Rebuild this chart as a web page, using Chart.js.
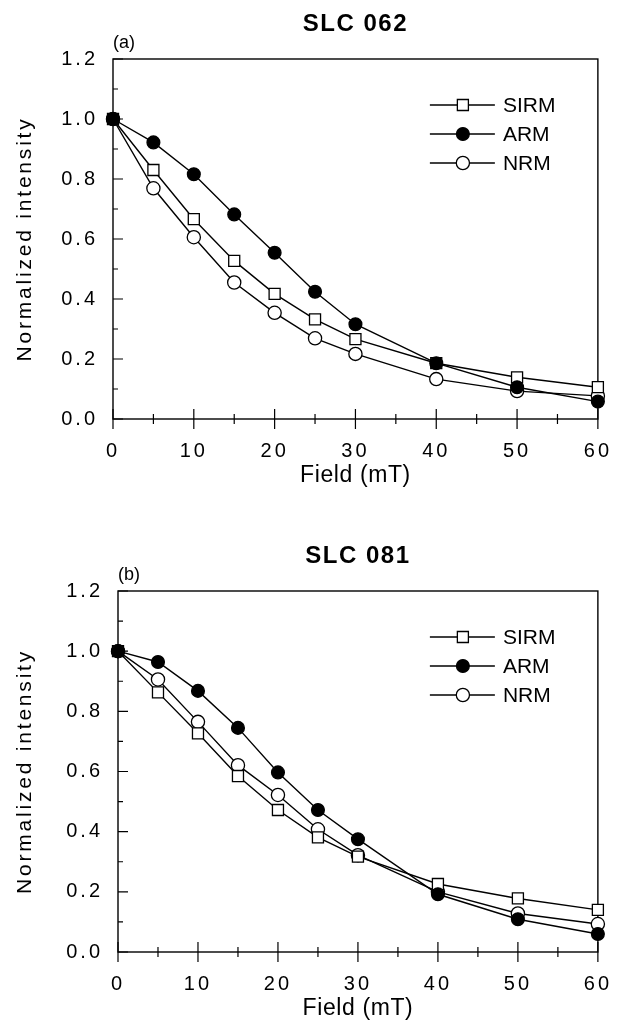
<!DOCTYPE html>
<html>
<head>
<meta charset="utf-8">
<script src="https://cdn.jsdelivr.net/npm/chart.js@4.4.0/dist/chart.umd.min.js"></script>
<style>
  html, body { margin: 0; padding: 0; background: #fff; }
  canvas { position: absolute; left: 0; }
  #chartA { top: 0; }
  #chartB { top: 510px; }
</style>
</head>
<body>
<canvas id="chartA" width="629" height="510"></canvas>
<canvas id="chartB" width="629" height="513"></canvas>
<script>
// alternating field steps (mT)
const fields = [0, 5, 10, 15, 20, 25, 30, 40, 50, 60];
const xTicks = [0, 10, 20, 30, 40, 50, 60];
const yTicks = [0.0, 0.2, 0.4, 0.6, 0.8, 1.0, 1.2];

// SLC 062
const sirm062 = [1.0, 0.83, 0.666, 0.527, 0.417, 0.332, 0.266, 0.186, 0.139, 0.106];
const arm062  = [1.0, 0.922, 0.816, 0.682, 0.554, 0.424, 0.316, 0.186, 0.106, 0.058];
const nrm062  = [1.0, 0.769, 0.606, 0.455, 0.354, 0.269, 0.217, 0.133, 0.093, 0.077];

// SLC 081
const sirm081 = [1.0, 0.863, 0.727, 0.585, 0.472, 0.381, 0.317, 0.226, 0.178, 0.14];
const arm081  = [1.0, 0.964, 0.868, 0.745, 0.597, 0.472, 0.375, 0.192, 0.109, 0.06];
const nrm081  = [1.0, 0.906, 0.765, 0.621, 0.522, 0.408, 0.322, 0.2, 0.128, 0.093];

const FONT = '"Liberation Sans", Arial, sans-serif';
Chart.defaults.font.family = FONT;
Chart.defaults.color = '#000';

// legend rows drawn by hand: line + marker + label
const legendRows = [
  { label: 'SIRM', style: 'rect', radius: 7.8, fill: '#fff' },
  { label: 'ARM', style: 'circle', radius: 6.4, fill: '#000' },
  { label: 'NRM', style: 'circle', radius: 6.6, fill: '#fff' }
];

const decorPlugin = {
  id: 'decor',
  beforeDraw(chart) {
    // wider letter spacing for tick labels and y title, like the original plot
    Object.values(chart.scales).forEach(s => {
      if (s._spaced) return;
      s._spaced = true;
      const lab = s.drawLabels, tit = s.drawTitle;
      s.drawLabels = function (area) {
        const c = this.ctx; c.save(); c.letterSpacing = '3px'; lab.call(this, area); c.restore();
      };
      s.drawTitle = function () {
        const c = this.ctx; c.save(); c.letterSpacing = this.axis === 'y' ? '2.8px' : '0.6px'; tit.call(this); c.restore();
      };
    });
  },
  beforeDatasetsDraw(chart) {
    const { ctx, chartArea: a, scales: { x, y } } = chart;
    ctx.save();
    ctx.strokeStyle = '#000';
    ctx.lineWidth = 1.4;
    ctx.strokeRect(a.left, a.top, a.right - a.left, a.bottom - a.top);
    ctx.lineWidth = 1.2;
    ctx.beginPath();
    for (let v = 0; v <= 60; v += 5) {
      const px = x.getPixelForValue(v);
      const len = v % 10 === 0 ? 10 : 5;
      ctx.moveTo(px, a.bottom - len);
      ctx.lineTo(px, a.bottom + len);
    }
    for (let k = 0; k <= 12; k++) {
      const py = y.getPixelForValue(k / 10);
      const len = k % 2 === 0 ? 10 : 5;
      ctx.moveTo(a.left, py);
      ctx.lineTo(a.left + len, py);
    }
    ctx.stroke();
    ctx.restore();
  },
  afterDraw(chart, args, opts) {
    const { ctx, chartArea: a } = chart;
    ctx.save();
    ctx.fillStyle = '#000';
    ctx.textBaseline = 'middle';
    // title
    ctx.font = 'bold 24px ' + FONT;
    ctx.letterSpacing = '1.5px';
    ctx.textAlign = 'center';
    ctx.fillText(opts.title, (a.left + a.right) / 2, a.top - 35);
    // panel letter
    ctx.letterSpacing = '0px';
    ctx.font = '18px ' + FONT;
    ctx.textAlign = 'left';
    ctx.fillText(opts.panel, a.left, a.top - 16);
    // legend
    ctx.font = '21px ' + FONT;
    ctx.strokeStyle = '#000';
    legendRows.forEach((r, i) => {
      const yy = a.top + 46 + i * 29;
      ctx.lineWidth = 1.3;
      ctx.beginPath();
      ctx.moveTo(a.right - 168, yy);
      ctx.lineTo(a.right - 103, yy);
      ctx.stroke();
      ctx.fillStyle = r.fill;
      Chart.helpers.drawPoint(ctx, { pointStyle: r.style, radius: r.radius, rotation: 0, borderWidth: 1.3 }, a.right - 135, yy);
      ctx.fillStyle = '#000';
      ctx.fillText(r.label, a.right - 95, yy + 1);
    });
    ctx.restore();
  }
};

function series(label, values, style, radius, fill, order) {
  return {
    label: label,
    data: fields.map((f, i) => ({ x: f, y: values[i] })),
    borderColor: '#000',
    borderWidth: 1.4,
    backgroundColor: fill,
    pointStyle: style,
    pointRadius: radius,
    pointBackgroundColor: fill,
    pointBorderColor: '#000',
    pointBorderWidth: 1.3,
    tension: 0,
    clip: false,
    order: order
  };
}

function makeChart(id, title, panel, sirm, arm, nrm, pad, yWidth) {
  new Chart(document.getElementById(id), {
    type: 'line',
    data: {
      datasets: [
        series('SIRM', sirm, 'rect', 7.8, '#fff', 1),
        series('ARM', arm, 'circle', 6.4, '#000', 0),
        series('NRM', nrm, 'circle', 6.6, '#fff', 2)
      ]
    },
    options: {
      responsive: false,
      animation: false,
      layout: { padding: pad },
      plugins: {
        legend: { display: false },
        tooltip: { enabled: false },
        decor: { title: title, panel: panel }
      },
      scales: {
        x: {
          type: 'linear',
          min: 0,
          max: 60,
          afterFit: s => { s.height = 70; },
          afterBuildTicks: s => { s.ticks = xTicks.map(v => ({ value: v })); },
          grid: { display: false, drawTicks: false },
          border: { display: false },
          ticks: { padding: 20, maxRotation: 0, font: { size: 20 }, color: '#000' },
          title: { display: true, text: 'Field (mT)', font: { size: 23 }, color: '#000', padding: { top: 0, bottom: 0 } }
        },
        y: {
          min: 0,
          max: 1.2,
          afterFit: s => { s.width = yWidth; },
          afterBuildTicks: s => { s.ticks = yTicks.map(v => ({ value: v })); },
          grid: { display: false, drawTicks: false },
          border: { display: false },
          ticks: { padding: 15, font: { size: 20 }, color: '#000', callback: v => v.toFixed(1) },
          title: { display: true, text: 'Normalized intensity', font: { size: 21 }, color: '#000', padding: { top: 13, bottom: 0 } }
        }
      }
    },
    plugins: [decorPlugin]
  });
}

makeChart('chartA', 'SLC 062', '(a)', sirm062, arm062, nrm062, { top: 59, left: 0, right: 21, bottom: 21 }, 113);
makeChart('chartB', 'SLC 081', '(b)', sirm081, arm081, nrm081, { top: 81, left: 0, right: 15, bottom: 1 }, 118);
</script>
</body>
</html>
